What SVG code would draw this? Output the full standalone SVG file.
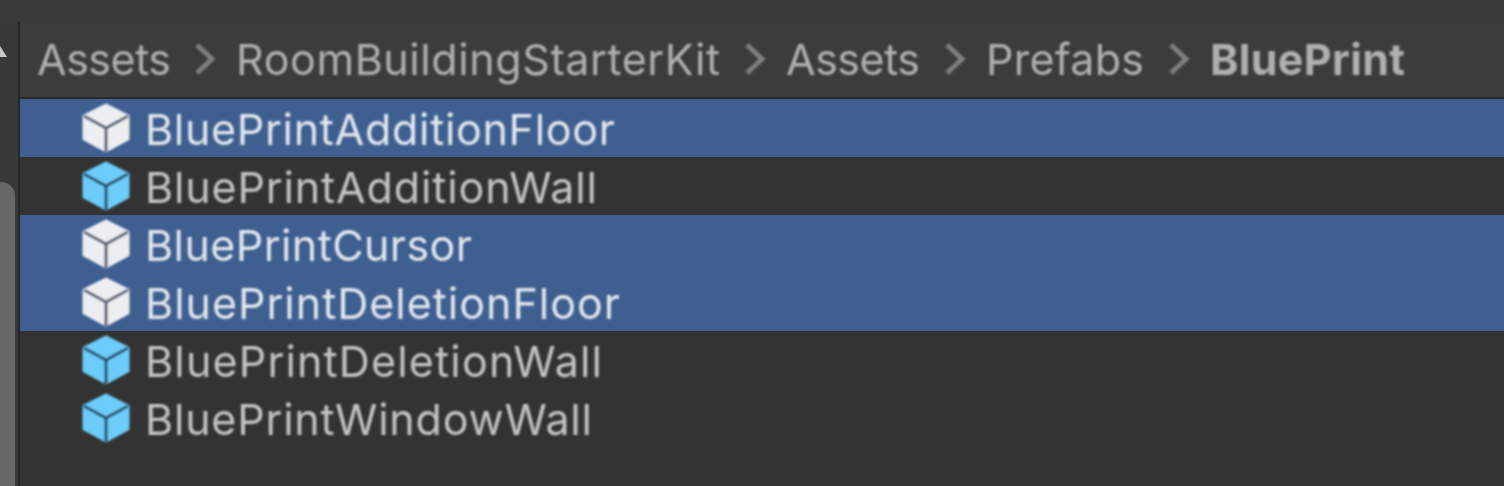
<svg xmlns="http://www.w3.org/2000/svg" width="1504" height="486" viewBox="0 0 1504 486">
<style>
.t{font-family:Inter,"Noto Sans",sans-serif;font-size:43px}
.c{fill:#b0b0b0}
.s{fill:#e2e7ee}
.u{fill:#c4c4c4}
.sep{fill:none;stroke:#7f7f7f;stroke-width:5;stroke-linejoin:miter}
.row{fill:#3e5f90}
.body{stroke-width:3;stroke-linejoin:round}
.w{fill:#eceef2;stroke:#eceef2}
.b{fill:#6cccfb;stroke:#6cccfb}
.ln{fill:none;stroke-width:3}
.lw{stroke:#4c5b70}
.lb{stroke:#2c4a60}
</style>
<defs>
<filter id="soft" x="-5%" y="-5%" width="110%" height="110%"><feGaussianBlur stdDeviation="0.8"/></filter>
<g id="cube-w">
<path class="body w" d="M0 -23 L22 -12 L22 11 L0 23 L-22 11 L-22 -12Z"/>
<path class="ln lw" d="M-22 -12 L0 0 L22 -12 M0 0 L0 24"/>
</g>
<g id="cube-b">
<path class="body b" d="M0 -23 L22 -12 L22 11 L0 23 L-22 11 L-22 -12Z"/>
<path class="ln lb" d="M-22 -12 L0 0 L22 -12 M0 0 L0 24"/>
</g>
</defs>
<rect width="1504" height="486" fill="#333333"/>
<rect width="1504" height="22" fill="#3a3a3a"/>
<rect x="0" y="22" width="18" height="464" fill="#383838"/>
<rect x="18" y="22" width="2" height="464" fill="#272727"/>
<rect x="-20" y="182" width="35" height="320" rx="14" fill="#676767"/>
<path d="M0 46 L7 57 L0 57Z" fill="#c8c8c8"/>
<rect x="20" y="22" width="1484" height="76" fill="#3c3c3c"/>
<rect x="20" y="97" width="1484" height="2" fill="#2a2a2a"/>
<rect class="row" x="20" y="99" width="1484" height="58"/>
<rect class="row" x="20" y="215" width="1484" height="116"/>
<g filter="url(#soft)">
<g id="breadcrumb">
<text class="t c" x="37" y="75" textLength="134" lengthAdjust="spacing">Assets</text>
<path class="sep" d="M197 45 L212 59 L197 73"/>
<text class="t c" x="236" y="75" textLength="484" lengthAdjust="spacing">RoomBuildingStarterKit</text>
<path class="sep" d="M747 45 L762 59 L747 73"/>
<text class="t c" x="786" y="75" textLength="134" lengthAdjust="spacing">Assets</text>
<path class="sep" d="M947 45 L962 59 L947 73"/>
<text class="t c" x="986" y="75" textLength="158" lengthAdjust="spacing">Prefabs</text>
<path class="sep" d="M1171 45 L1186 59 L1171 73"/>
<text class="t c" x="1210" y="75" font-weight="700" textLength="195" lengthAdjust="spacing">BluePrint</text>
</g>
<g id="item-1"><use href="#cube-w" x="106" y="128"/><text class="t s" x="145" y="145" textLength="470" lengthAdjust="spacing">BluePrintAdditionFloor</text></g>
<g id="item-2"><use href="#cube-b" x="106" y="186"/><text class="t u" x="145" y="203" textLength="452" lengthAdjust="spacing">BluePrintAdditionWall</text></g>
<g id="item-3"><use href="#cube-w" x="106" y="244"/><text class="t s" x="145" y="261" textLength="327" lengthAdjust="spacing">BluePrintCursor</text></g>
<g id="item-4"><use href="#cube-w" x="106" y="302"/><text class="t s" x="145" y="319" textLength="475" lengthAdjust="spacing">BluePrintDeletionFloor</text></g>
<g id="item-5"><use href="#cube-b" x="106" y="360"/><text class="t u" x="145" y="377" textLength="457" lengthAdjust="spacing">BluePrintDeletionWall</text></g>
<g id="item-6"><use href="#cube-b" x="106" y="418"/><text class="t u" x="145" y="435" textLength="447" lengthAdjust="spacing">BluePrintWindowWall</text></g>
</g>
<g id="connectors"/>
</svg>
